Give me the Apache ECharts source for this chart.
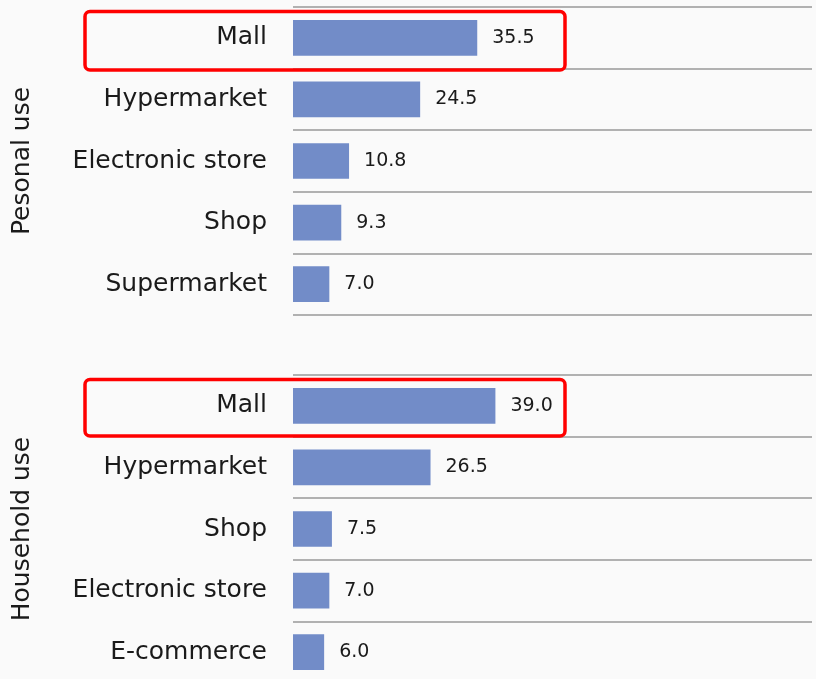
<!DOCTYPE html>
<html>
<head>
<meta charset="utf-8">
<script src="https://cdn.jsdelivr.net/npm/echarts@6/dist/echarts.min.js"></script>
<style>
  html, body { margin: 0; padding: 0; background: #fafafa; overflow: hidden; }
</style>
</head>
<body>
<!-- a bit taller than the window so the bottom grid is not squeezed -->
<div id="main" style="width: 816px;height:690px;"></div>
<script type="text/javascript">
    // data
    var personalCats = ['Mall', 'Hypermarket', 'Electronic store', 'Shop', 'Supermarket'];
    var personalVals = [35.5, 24.5, 10.8, 9.3, 7.0];
    var householdCats = ['Mall', 'Hypermarket', 'Shop', 'Electronic store', 'E-commerce'];
    var householdVals = [39.0, 26.5, 7.5, 7.0, 6.0];
    var groupNames = ['Pesonal use', 'Household use'];
    var highlightCat = 'Mall';

    var FONT = '"DejaVu Sans", "Noto Sans", sans-serif';
    var barColor = '#728cc8';

    var myChart = echarts.init(document.getElementById('main'));

    function makeY(idx, cats) {
        return {
            type: 'category',
            gridIndex: idx,
            data: cats,
            inverse: true,
            name: groupNames[idx],
            nameLocation: 'middle',
            nameRotate: 90,
            nameGap: 258,
            nameTextStyle: { fontFamily: FONT, fontSize: 25, color: '#1a1a1a' },
            axisLine: { show: false },
            axisTick: { show: false },
            axisLabel: { margin: 26, fontFamily: FONT, fontSize: 25, color: '#1a1a1a' },
            splitLine: { show: true, lineStyle: { color: '#999', width: 1.5 } }
        };
    }
    function makeX(idx) {
        return {
            type: 'value',
            gridIndex: idx,
            min: 0,
            max: 100,
            show: false,
            splitLine: { show: false }
        };
    }
    function makeSeries(idx, vals) {
        return {
            type: 'bar',
            xAxisIndex: idx,
            yAxisIndex: idx,
            data: vals,
            barCategoryGap: '42%',
            itemStyle: { color: barColor },
            label: {
                show: true,
                position: 'right',
                distance: 15,
                fontFamily: FONT,
                fontSize: 19,
                color: '#1a1a1a',
                formatter: function (p) { return p.value.toFixed(1); }
            }
        };
    }

    var option = {
        backgroundColor: '#fafafa',
        animation: false,
        grid: [
            { left: 293, width: 519, top: 7, height: 308 },
            { left: 293, width: 519, top: 375, height: 308 }
        ],
        xAxis: [makeX(0), makeX(1)],
        yAxis: [makeY(0, personalCats), makeY(1, householdCats)],
        series: [makeSeries(0, personalVals), makeSeries(1, householdVals)]
    };
    myChart.setOption(option);

    // red boxes around the highlighted row, placed from the axis
    var boxes = [0, 1].map(function (i) {
        var cy = myChart.convertToPixel({ yAxisIndex: i }, highlightCat) + (i === 0 ? 3 : 2);
        var h = i === 0 ? 58.5 : 56.5;
        return {
            type: 'rect',
            shape: { x: 85, y: cy - h / 2, width: 480, height: h, r: 5 },
            style: { fill: 'none', stroke: '#ff0000', lineWidth: 3.5 },
            z: 100
        };
    });
    myChart.setOption({ graphic: boxes });
</script>
</body>
</html>
